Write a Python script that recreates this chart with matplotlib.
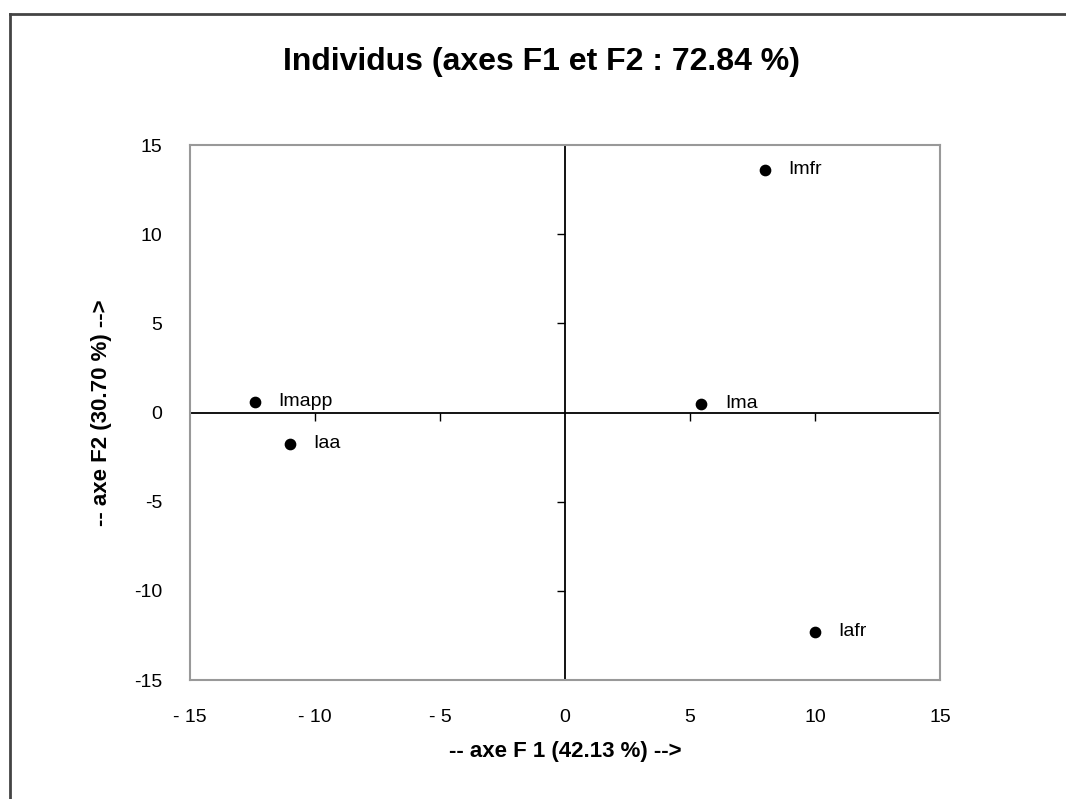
import matplotlib.pyplot as plt
from matplotlib.lines import Line2D

""" data """
names = ["Imfr", "Imapp", "Iaa", "Ima", "Iafr"]
f1 = [8.0, -12.4, -11.0, 5.45, 10.0]
f2 = [13.6, 0.6, -1.75, 0.5, -12.3]
ticks = [-15, -10, -5, 0, 5, 10, 15]

plt.rcParams['font.family'] = ['Liberation Sans', 'DejaVu Sans']
plt.rcParams['axes.unicode_minus'] = False

fig = plt.figure(figsize=(10.66, 7.99), dpi=100)
ax = fig.add_axes([0.1782, 0.1489, 0.7036, 0.6696])

## outer frame (only top and left visible)
fig.add_artist(Line2D([10/1066, 1.0], [1 - 14/799, 1 - 14/799], transform=fig.transFigure, color="#444444", linewidth=2))
fig.add_artist(Line2D([10/1066, 10/1066], [0.0, 1 - 14/799], transform=fig.transFigure, color="#444444", linewidth=2))

## points and labels
ax.scatter(f1, f2, s=55, color="black", zorder=3)
for n, x, y in zip(names, f1, f2):
    ax.annotate(n, (x, y), xytext=(17, 0), textcoords="offset points", va="center", ha="left", fontsize=14)

## central axes with ticks
ax.axhline(0, color="black", linewidth=1.3)
ax.axvline(0, color="black", linewidth=1.3)
inner = [t for t in ticks if t not in (-15, 0, 15)]
ax.plot(inner, [0] * len(inner), linestyle="none", marker=3, markersize=6, color="black", markeredgewidth=1)
ax.plot([0] * len(inner), inner, linestyle="none", marker=0, markersize=6, color="black", markeredgewidth=1)

## graph settings
ax.set_xlim(-15, 15)
ax.set_ylim(-15, 15)
ax.set_xticks(ticks)
ax.set_yticks(ticks)
ax.set_xticklabels([str(t).replace("-", "- ") for t in ticks])
ax.set_yticklabels([str(t) for t in ticks])
ax.tick_params(length=0, labelsize=14)
ax.tick_params(axis="x", pad=21)
ax.tick_params(axis="y", pad=20)
for s in ax.spines.values():
    s.set_color("#999999")
    s.set_linewidth(1.5)

fig.text(0.508, 1 - 62/799, "Individus (axes F1 et F2 : 72.84 %)", ha="center", va="center", fontsize=23, fontweight="bold")
ax.set_xlabel("-- axe F 1 (42.13 %) -->", fontsize=16, fontweight="bold", labelpad=11)
ax.set_ylabel("-- axe F2 (30.70 %) -->", fontsize=16, fontweight="bold", labelpad=16)

fig.savefig("out.png", dpi=100)
